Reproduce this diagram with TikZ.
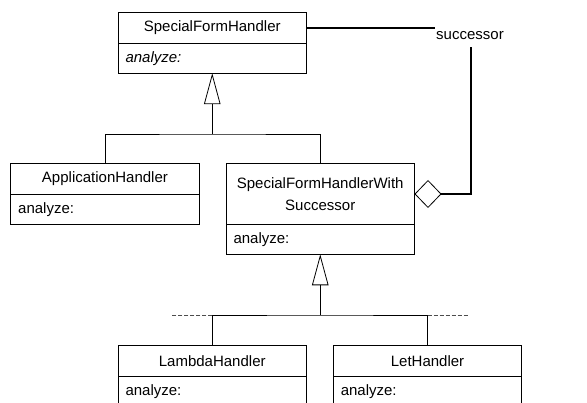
\documentclass[tikz,border=0pt]{standalone}
\usepackage{fontspec}
\setmainfont{Liberation Sans}
\usetikzlibrary{arrows.meta}
\begin{document}
\begin{tikzpicture}[x=1pt,y=-1pt,
  every node/.style={outer sep=0pt},
  classtitle/.style={draw, line width=0.8pt, minimum width=188.5pt, minimum height=30.5pt,
    inner sep=0pt, align=center, anchor=north west, font=\fontsize{15}{21.5}\selectfont},
  classops/.style={draw, line width=0.8pt, minimum width=188.5pt, minimum height=30pt,
    inner xsep=7.5pt, inner ysep=0pt, text width=173.5pt, align=left, anchor=north west,
    font=\fontsize{15}{18}\selectfont},
  inherit/.style={line width=0.8pt},
  inherittip/.style={inherit, -{Triangle[open, length=31pt, width=16.5pt, line width=0.8pt]}},
  assoc/.style={line width=1.2pt},
  extension/.style={line width=0.7pt, draw=black!70, dash pattern=on 4pt off 2pt},
]
\useasboundingbox (0,0) rectangle (587,403);
\clip (0,0) rectangle (587,403);

% abstract handler
\node[classtitle] (sfh) at (118,12.7) {SpecialFormHandler};
\node[classops] (sfhops) at (sfh.south west) {\itshape analyze:};

% direct subclasses
\node[classtitle] (app) at (10.7,163.7) {ApplicationHandler};
\node[classops] (appops) at (app.south west) {analyze:};

\node[classtitle, minimum height=60.6pt] (sws) at (226,163.7) {SpecialFormHandlerWith\\Successor};
\node[classops] (swsops) at (sws.south west) {analyze:};

% concrete handlers with successor
\node[classtitle] (lam) at (118,345.7) {LambdaHandler};
\node[classops] (lamops) at (lam.south west) {analyze:};

\node[classtitle] (let) at (333.3,345.7) {LetHandler};
\node[classops] (letops) at (let.south west) {analyze:};

% generalisation: first level
\coordinate (j1) at (sfh.center |- 0,134);
\draw[inherit] (app.north) |- (j1) -| (sws.north);
\draw[inherittip] (j1) -- (sfhops.south);

% generalisation: second level
\coordinate (j2) at (sws.center |- 0,315);
\draw[inherit] (lam.north) |- (j2) -| (let.north);
\draw[inherittip] (j2) -- (swsops.south);
\coordinate (lamj) at (lam.north |- j2);
\coordinate (letj) at (let.north |- j2);
\draw[extension] (lamj) -- ++(-40.6,0);
\draw[extension] (letj) -- ++(40,0);

% successor association
\node[font=\fontsize{15}{18}\selectfont, inner sep=1pt] (succ) at (470,35.5) {successor};
\coordinate (succfoot) at ([xshift=1pt,yshift=-6pt]succ.south);
\draw[assoc] (sfh.east) -- (sfh.east -| succ.west);
\draw[assoc, {Diamond[open, length=27pt, width=28pt, line width=0.8pt]}-]
  (sws.east) -| (succfoot);
\end{tikzpicture}
\end{document}
